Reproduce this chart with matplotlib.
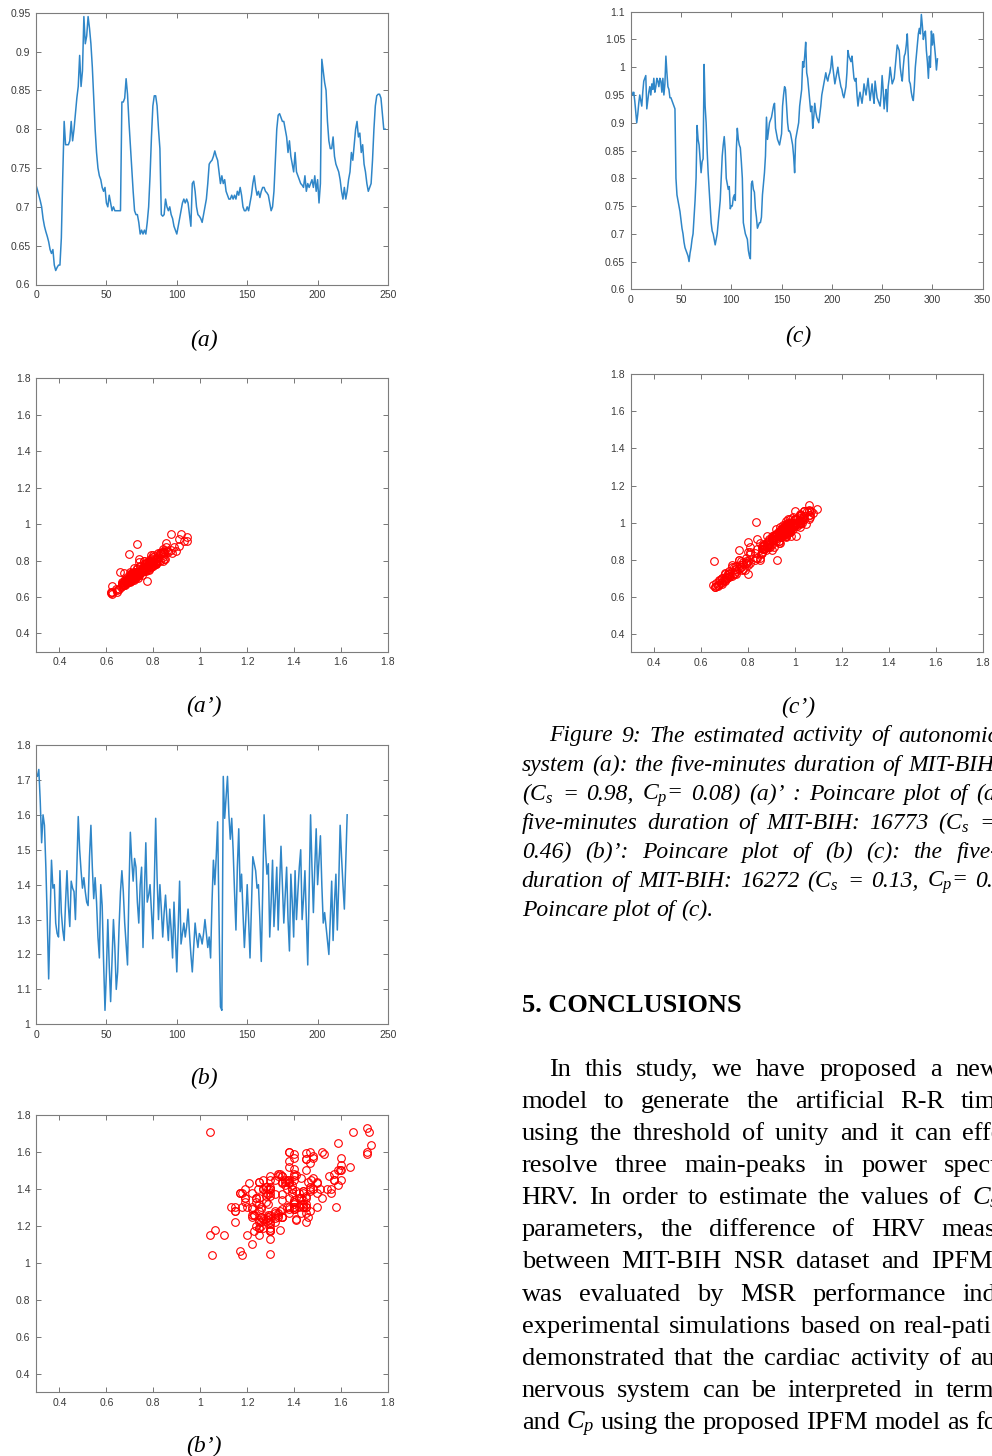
import numpy as np
import matplotlib
matplotlib.use("Agg")
import matplotlib.pyplot as plt
from matplotlib.ticker import FixedLocator, FuncFormatter

# ---------------- data ----------------
series_a = [
    0.728, 0.722, 0.715, 0.708, 0.700, 0.685, 0.675, 0.668, 0.662, 0.655,
    0.645, 0.640, 0.645, 0.625, 0.618, 0.622, 0.625, 0.625, 0.660, 0.740,
    0.810, 0.780, 0.780, 0.780, 0.785, 0.810, 0.785, 0.800, 0.820, 0.840,
    0.855, 0.895, 0.855, 0.875, 0.945, 0.910, 0.920, 0.945, 0.930, 0.910,
    0.880, 0.840, 0.800, 0.770, 0.750, 0.740, 0.735, 0.725, 0.720, 0.725,
    0.705, 0.700, 0.715, 0.705, 0.695, 0.700, 0.695, 0.695, 0.695, 0.695,
    0.695, 0.835, 0.835, 0.840, 0.865, 0.845, 0.810, 0.780, 0.750, 0.720,
    0.695, 0.690, 0.690, 0.680, 0.665, 0.670, 0.665, 0.670, 0.665, 0.680,
    0.700, 0.740, 0.790, 0.830, 0.843, 0.843, 0.830, 0.800, 0.775, 0.690,
    0.688, 0.690, 0.710, 0.700, 0.695, 0.700, 0.690, 0.685, 0.675, 0.670,
    0.665, 0.675, 0.685, 0.695, 0.705, 0.710, 0.705, 0.710, 0.705, 0.690,
    0.675, 0.730, 0.733, 0.720, 0.700, 0.690, 0.688, 0.685, 0.680, 0.690,
    0.700, 0.710, 0.730, 0.755, 0.758, 0.760, 0.765, 0.772, 0.765, 0.760,
    0.745, 0.730, 0.740, 0.730, 0.735, 0.720, 0.715, 0.710, 0.710, 0.715,
    0.710, 0.715, 0.710, 0.720, 0.715, 0.725, 0.715, 0.700, 0.695, 0.695,
    0.700, 0.695, 0.705, 0.715, 0.730, 0.740, 0.725, 0.715, 0.720, 0.712,
    0.720, 0.725, 0.725, 0.720, 0.718, 0.715, 0.705, 0.695, 0.700, 0.720,
    0.760, 0.800, 0.818, 0.820, 0.815, 0.810, 0.810, 0.800, 0.790, 0.770,
    0.785, 0.765, 0.755, 0.745, 0.770, 0.745, 0.740, 0.735, 0.730, 0.728,
    0.725, 0.740, 0.720, 0.730, 0.725, 0.730, 0.735, 0.725, 0.740, 0.720,
    0.735, 0.705, 0.730, 0.890, 0.875, 0.860, 0.850, 0.810, 0.785, 0.775,
    0.775, 0.790, 0.765, 0.755, 0.750, 0.745, 0.735, 0.720, 0.710, 0.725,
    0.710, 0.720, 0.735, 0.745, 0.770, 0.760, 0.780, 0.800, 0.810, 0.790,
    0.795, 0.770, 0.780, 0.755, 0.745, 0.730, 0.720, 0.725, 0.730, 0.760,
    0.800, 0.830, 0.843, 0.845, 0.845, 0.840, 0.820, 0.800, 0.800,
]

series_b = [
    1.72, 1.71, 1.73, 1.64, 1.52, 1.60, 1.57, 1.45, 1.30, 1.13,
    1.30, 1.47, 1.39, 1.40, 1.29, 1.26, 1.25, 1.44, 1.32, 1.27,
    1.24, 1.35, 1.44, 1.34, 1.28, 1.41, 1.39, 1.38, 1.30, 1.45,
    1.595, 1.50, 1.44, 1.39, 1.42, 1.38, 1.35, 1.34, 1.48, 1.57,
    1.45, 1.36, 1.42, 1.35, 1.25, 1.19, 1.40, 1.34, 1.18, 1.04,
    1.15, 1.30, 1.17, 1.065, 1.18, 1.30, 1.22, 1.10, 1.15, 1.28,
    1.38, 1.44, 1.38, 1.29, 1.23, 1.17, 1.38, 1.55, 1.47, 1.41,
    1.475, 1.45, 1.35, 1.29, 1.40, 1.45, 1.22, 1.38, 1.52, 1.35,
    1.37, 1.40, 1.32, 1.245, 1.40, 1.59, 1.42, 1.30, 1.40, 1.33,
    1.25, 1.32, 1.37, 1.30, 1.24, 1.33, 1.27, 1.19, 1.35, 1.25,
    1.15, 1.28, 1.41, 1.23, 1.26, 1.29, 1.25, 1.28, 1.33, 1.26,
    1.20, 1.15, 1.22, 1.29, 1.25, 1.22, 1.26, 1.25, 1.23, 1.26,
    1.30, 1.26, 1.22, 1.25, 1.19, 1.35, 1.47, 1.40, 1.48, 1.58,
    1.30, 1.05, 1.04, 1.71, 1.59, 1.65, 1.71, 1.60, 1.53, 1.59,
    1.50, 1.38, 1.27, 1.45, 1.56, 1.38, 1.43, 1.32, 1.22, 1.30,
    1.40, 1.30, 1.19, 1.33, 1.48, 1.46, 1.44, 1.39, 1.40, 1.30,
    1.18, 1.38, 1.60, 1.50, 1.43, 1.46, 1.25, 1.35, 1.47, 1.28,
    1.36, 1.45, 1.27, 1.40, 1.51, 1.40, 1.29, 1.37, 1.45, 1.30,
    1.21, 1.43, 1.35, 1.25, 1.44, 1.30, 1.38, 1.45, 1.50, 1.30,
    1.36, 1.44, 1.30, 1.17, 1.38, 1.60, 1.45, 1.32, 1.45, 1.56,
    1.40, 1.47, 1.54, 1.40, 1.29, 1.32, 1.28, 1.24, 1.20, 1.30,
    1.41, 1.24, 1.35, 1.43, 1.27, 1.40, 1.57, 1.48, 1.40, 1.33,
    1.47, 1.60,
]

series_c = [
    0.960, 0.955, 0.950, 0.955, 0.940, 0.920, 0.900, 0.915, 0.935, 0.950,
    0.940, 0.930, 0.955, 0.975, 0.980, 0.985, 0.925, 0.940, 0.955, 0.965,
    0.950, 0.970, 0.960, 0.980, 0.955, 0.965, 0.980, 0.975, 0.965, 0.980,
    0.975, 0.955, 0.980, 0.950, 0.970, 1.020, 0.990, 0.965, 0.960, 0.945,
    0.945, 0.940, 0.935, 0.930, 0.925, 0.800, 0.770, 0.760, 0.750, 0.740,
    0.725, 0.710, 0.700, 0.685, 0.675, 0.670, 0.665, 0.660, 0.650, 0.665,
    0.675, 0.690, 0.700, 0.730, 0.760, 0.800, 0.895, 0.870, 0.860, 0.835,
    0.810, 0.830, 0.835, 1.005, 0.930, 0.900, 0.850, 0.810, 0.780, 0.750,
    0.720, 0.705, 0.700, 0.690, 0.680, 0.690, 0.700, 0.720, 0.740, 0.760,
    0.800, 0.840, 0.860, 0.875, 0.850, 0.800, 0.790, 0.780, 0.785, 0.745,
    0.750, 0.750, 0.765, 0.770, 0.760, 0.850, 0.890, 0.870, 0.860, 0.855,
    0.830, 0.800, 0.720, 0.710, 0.700, 0.695, 0.690, 0.670, 0.660, 0.655,
    0.790, 0.795, 0.780, 0.775, 0.745, 0.730, 0.710, 0.715, 0.720, 0.720,
    0.730, 0.770, 0.790, 0.810, 0.840, 0.910, 0.870, 0.885, 0.900, 0.905,
    0.910, 0.920, 0.930, 0.935, 0.890, 0.880, 0.870, 0.865, 0.860, 0.870,
    0.880, 0.930, 0.950, 0.965, 0.960, 0.930, 0.900, 0.885, 0.885, 0.880,
    0.870, 0.860, 0.840, 0.810, 0.870, 0.880, 0.890, 0.900, 0.930, 0.945,
    0.960, 1.010, 1.000, 1.020, 1.045, 0.990, 0.980, 0.960, 0.940, 0.920,
    0.930, 0.890, 0.910, 0.935, 0.920, 0.910, 0.905, 0.900, 0.915, 0.930,
    0.950, 0.960, 0.970, 0.980, 0.990, 0.980, 0.975, 0.985, 0.990, 1.000,
    1.020, 1.000, 0.985, 0.970, 0.980, 0.990, 1.000, 0.985, 0.975, 0.965,
    0.960, 0.950, 0.945, 0.955, 0.965, 0.990, 1.030, 1.020, 1.015, 1.010,
    1.020, 1.000, 0.980, 0.975, 0.980, 0.950, 0.930, 0.945, 0.955, 0.945,
    0.935, 0.950, 0.970, 0.960, 0.950, 0.965, 0.980, 0.960, 0.940, 0.955,
    0.970, 0.950, 0.935, 0.975, 0.960, 0.945, 0.940, 0.935, 0.930, 0.950,
    0.985, 0.960, 0.925, 0.945, 0.960, 0.920, 0.965, 0.980, 1.000, 0.985,
    0.970, 0.975, 0.980, 1.000, 1.020, 1.040, 1.035, 1.030, 1.000, 0.985,
    0.975, 1.000, 1.020, 1.025, 1.040, 1.060, 1.020, 0.975, 0.970, 0.955,
    0.945, 0.940, 0.965, 1.000, 1.020, 1.040, 1.060, 1.070, 1.060, 1.095,
    1.075, 1.050, 1.060, 1.065, 1.030, 1.010, 0.980, 1.020, 1.000, 1.065,
    1.040, 1.060, 1.040, 1.020, 0.995, 1.015,
]

a_xticks = [0, 50, 100, 150, 200, 250]
a_yticks = [0.6, 0.65, 0.7, 0.75, 0.8, 0.85, 0.9, 0.95]
b_xticks = [0, 50, 100, 150, 200, 250]
b_yticks = [1, 1.1, 1.2, 1.3, 1.4, 1.5, 1.6, 1.7, 1.8]
c_xticks = [0, 50, 100, 150, 200, 250, 300, 350]
c_yticks = [0.6, 0.65, 0.7, 0.75, 0.8, 0.85, 0.9, 0.95, 1, 1.05, 1.1]
p_ticks = [0.4, 0.6, 0.8, 1, 1.2, 1.4, 1.6, 1.8]

panel_labels = ["(a)", "(a\u2019)", "(b)", "(b\u2019)", "(c)", "(c\u2019)"]

caption_lines = [
    ["Figure", "9:", "The", "estimated", "activity", "of", "autonomic"],
    ["system", "(a):", "the", "five-minutes", "duration", "of", "MIT-BIH:"],
    ["(C$_s$", "=", "0.98,", "C$_p$=", "0.08)", "(a)\u2019", ":", "Poincare", "plot", "of", "(a)"],
    ["five-minutes", "duration", "of", "MIT-BIH:", "16773", "(C$_s$", "="],
    ["0.46)", "(b)\u2019:", "Poincare", "plot", "of", "(b)", "(c):", "the", "five-minutes"],
    ["duration", "of", "MIT-BIH:", "16272", "(C$_s$", "=", "0.13,", "C$_p$=", "0."],
    ["Poincare", "plot", "of", "(c)."],
]
heading = "5. CONCLUSIONS"
body_lines = [
    ["In", "this", "study,", "we", "have", "proposed", "a", "new"],
    ["model", "to", "generate", "the", "artificial", "R-R", "time"],
    ["using", "the", "threshold", "of", "unity", "and", "it", "can", "effectively"],
    ["resolve", "three", "main-peaks", "in", "power", "spectrum"],
    ["HRV.", "In", "order", "to", "estimate", "the", "values", "of", "$C_s$"],
    ["parameters,", "the", "difference", "of", "HRV", "measures"],
    ["between", "MIT-BIH", "NSR", "dataset", "and", "IPFM"],
    ["was", "evaluated", "by", "MSR", "performance", "index."],
    ["experimental", "simulations", "based", "on", "real-patient"],
    ["demonstrated", "that", "the", "cardiac", "activity", "of", "autonomic"],
    ["nervous", "system", "can", "be", "interpreted", "in", "terms"],
    ["and", "$C_p$", "using", "the", "proposed", "IPFM", "model", "as", "follows:"],
]

# ---------------- layout / style ----------------
W, H = 992, 1456
plt.rcParams["mathtext.fontset"] = "custom"
plt.rcParams["mathtext.it"] = "Liberation Serif:italic"
plt.rcParams["mathtext.rm"] = "Liberation Serif"
plt.rcParams["font.family"] = "Liberation Sans"

fig = plt.figure(figsize=(W / 100, H / 100), dpi=100)
fig.patch.set_facecolor("white")

LINE_COL = "#2f86c8"
FRAME_COL = "#7d7d7d"
TICKLAB_COL = "#3a3a3a"


def axes_px(l, t, r, b):
    return fig.add_axes([l / W, 1 - b / H, (r - l) / W, (b - t) / H])


fmt = FuncFormatter(lambda v, p: f"{v:g}")


def style_axes(ax, xticks, yticks, xlim, ylim):
    ax.set_xlim(*xlim)
    ax.set_ylim(*ylim)
    ax.xaxis.set_major_locator(FixedLocator(xticks))
    ax.yaxis.set_major_locator(FixedLocator(yticks))
    ax.xaxis.set_major_formatter(fmt)
    ax.yaxis.set_major_formatter(fmt)
    for s in ax.spines.values():
        s.set_color(FRAME_COL)
        s.set_linewidth(0.8)
    ax.tick_params(direction="in", top=True, right=True, length=3.5, width=0.6,
                   color="#606060", labelsize=7.5, labelcolor=TICKLAB_COL, pad=4)


# line panels
ax_a = axes_px(36, 12.7, 388, 284.5)
ax_a.plot(np.arange(len(series_a)), series_a, color=LINE_COL, lw=1.1)
style_axes(ax_a, a_xticks, a_yticks, (0, 250), (0.6, 0.95))

ax_b = axes_px(36, 745, 388, 1024.3)
ax_b.plot(np.arange(len(series_b)), series_b, color=LINE_COL, lw=1.1)
style_axes(ax_b, b_xticks, b_yticks, (0, 250), (1.0, 1.8))

ax_c = axes_px(630.7, 11.7, 982.7, 289.3)
ax_c.plot(np.arange(len(series_c)), series_c, color=LINE_COL, lw=1.1)
style_axes(ax_c, c_xticks, c_yticks, (0, 350), (0.6, 1.1))

# Poincare panels: RR[n] vs RR[n+1]
for (l, t, r, b), s in [((36, 378.3, 387.7, 651.7), series_a),
                        ((36, 1115, 387.7, 1392.3), series_b),
                        ((630.7, 374.3, 982.7, 652.3), series_c)]:
    ax = axes_px(l, t, r, b)
    arr = np.asarray(s)
    ax.plot(arr[:-1], arr[1:], linestyle="none", marker="o", markersize=5.5,
            markerfacecolor="none", markeredgecolor="red", markeredgewidth=0.8)
    style_axes(ax, p_ticks, p_ticks, (0.3, 1.8), (0.3, 1.8))

# panel labels (x center, baseline y)
label_pos = [(204, 346), (204, 712), (204, 1084), (204, 1452), (798, 342), (798, 713)]
for lab, (x, y) in zip(panel_labels, label_pos):
    fig.text(x / W, 1 - y / H, lab, ha="center", va="baseline", fontsize=17,
             family="Liberation Serif", style="italic")

renderer = fig.canvas.get_renderer()


def place_words(words, x0, x_anchor, y_base, size, style="normal", weight="normal"):
    ts = [fig.text(0, 1 - y_base / H, w, fontsize=size, family="Liberation Serif",
                   style=style, weight=weight, ha="left", va="baseline") for w in words]
    widths = [t.get_window_extent(renderer).width for t in ts]
    k = len(words) - 1
    if x_anchor is None or k == 0:
        gap = size * 1.389 * 0.25
    else:
        gap = (x_anchor - x0 - sum(widths[:k])) / k
    x = x0
    for t, w in zip(ts, widths):
        t.set_x(x / W)
        x += w + gap


# caption (italic)
cap_x0 = [549.3, 521.7, 521.7, 521.7, 521.7, 521.7, 521.7]
cap_anchor = [898, 908, 976, 979, 957, 975, None]
for i, words in enumerate(caption_lines):
    base = 741.5 + 29.1 * i
    place_words(words, cap_x0[i], cap_anchor[i], base, 17, style="italic")

# heading
fig.text(521.7 / W, 1 - 1011.7 / H, heading, fontsize=19, family="Liberation Serif",
         weight="bold", va="baseline", ha="left")

# body (justified)
body_x0 = [549.3] + [521.7] * 11
body_anchor = [955, 961, 962, 944, 971.7, 941, 931, 962, 904, 970, 946, 975.0]
for i, words in enumerate(body_lines):
    base = 1075.9 + 32.1 * i
    place_words(words, body_x0[i], body_anchor[i], base, 19)

fig.savefig("out.png", dpi=100, facecolor="white")
